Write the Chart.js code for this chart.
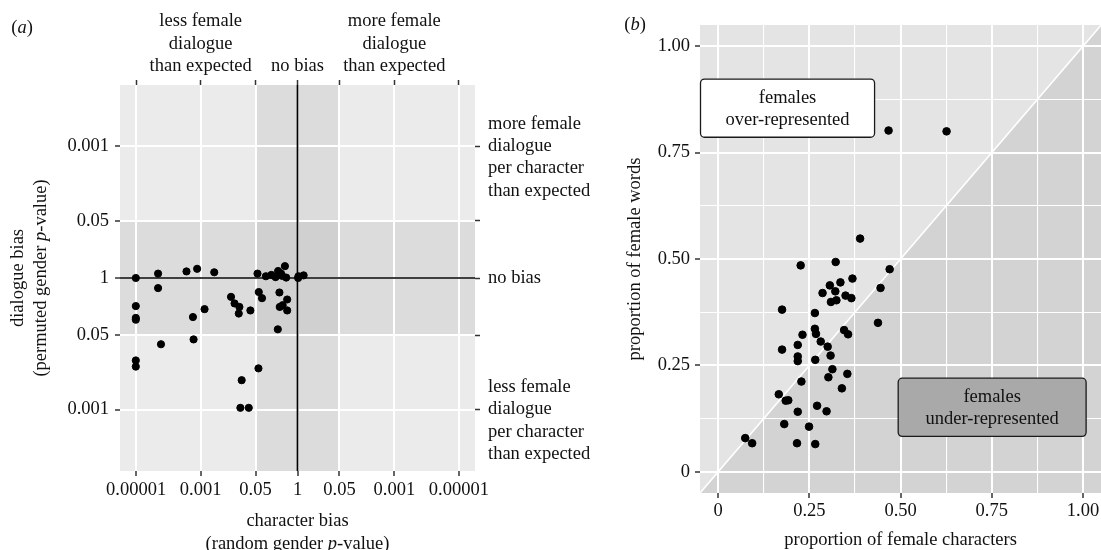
<!DOCTYPE html>
<html lang="en">
<head>
  <meta charset="UTF-8" />
  <title>Dialogue bias and female representation</title>
  <script src="https://cdn.jsdelivr.net/npm/chart.js"></script>
  <style>
    body { margin: 0; background: #fff; overflow: hidden; }
    #wrap { position: relative; width: 1101px; height: 550px; overflow: hidden; }
    #chartA { position: absolute; left: 0; top: 0; }
    #chartB { position: absolute; left: 600px; top: 0; }
  </style>
</head>
<body>
  <div id="wrap">
    <canvas id="chartA" width="600" height="550"></canvas>
    <canvas id="chartB" width="506" height="550"></canvas>
  </div>

  <script>
    // ---- panel (a): signed -log10(p); negative = less female than expected
    const charBias = [-5.01, -4.32, -4.32, -3.44, -3.11, -2.58, -1.24, -0.98, -0.81, -0.68, -0.60,
      -0.51, -0.39, -0.35, -0.48, 0.03, 0.19, 0.02, -5.01, -5.01, -5.01, -3.24, -2.88, -2.06, -1.95,
      -1.80, -1.82, -1.46, -1.20, -1.10, -0.56, -0.55, -0.32, -0.32, -0.46, -0.61, -4.23, -3.22,
      -5.01, -5.01, -1.21, -1.73, -1.77, -1.51];
    const dialogueBias = [0, 0.10, -0.23, 0.15, 0.21, 0.13, 0.10, 0.04, 0.07, 0.02, 0.16,
      0.10, 0.27, 0.01, 0.05, 0.04, 0.06, 0, -0.64, -0.91, -0.95, -0.89, -0.71, -0.43, -0.58,
      -0.66, -0.81, -0.74, -0.32, -0.46, -0.33, -0.66, -0.49, -0.74, -0.62, -1.17, -1.51, -1.40,
      -1.88, -2.02, -2.06, -2.33, -2.96, -2.96];

    const xTickValues = [-5, -3, -1.301, 0, 1.301, 3, 5];
    const xTickLabels = ['0.00001', '0.001', '0.05', '1', '0.05', '0.001', '0.00001'];
    const topTickLabels = ['', ['less female', 'dialogue', 'than expected'], '', 'no bias', '',
      ['more female', 'dialogue', 'than expected'], ''];
    const yTickValues = [-3, -1.301, 0, 1.301, 3];
    const yTickLabels = ['0.001', '0.05', '1', '0.05', '0.001'];
    const rightTickLabels = [['less female', 'dialogue', 'per character', 'than expected'], '', 'no bias', '',
      ['more female', 'dialogue', 'per character', 'than expected']];
    const sigLevel = 1.301; // p = 0.05

    // ---- panel (b): proportions
    const femaleCharacters = [0.467, 0.626, 0.389, 0.226, 0.322, 0.470, 0.368, 0.335, 0.306, 0.445,
      0.286, 0.321, 0.349, 0.365, 0.309, 0.324, 0.175, 0.265, 0.438, 0.265, 0.345, 0.356, 0.231,
      0.268, 0.281, 0.300, 0.218, 0.175, 0.308, 0.218, 0.218, 0.266, 0.313, 0.302, 0.354, 0.228,
      0.339, 0.166, 0.185, 0.192, 0.271, 0.218, 0.297, 0.181, 0.249, 0.074, 0.093, 0.216, 0.266];
    const femaleWords = [0.802, 0.800, 0.548, 0.485, 0.493, 0.476, 0.454, 0.445, 0.438, 0.432,
      0.420, 0.424, 0.414, 0.408, 0.399, 0.403, 0.381, 0.373, 0.350, 0.336, 0.333, 0.323, 0.322,
      0.324, 0.306, 0.294, 0.298, 0.287, 0.273, 0.271, 0.260, 0.263, 0.241, 0.222, 0.230, 0.212,
      0.196, 0.182, 0.167, 0.168, 0.155, 0.141, 0.142, 0.112, 0.106, 0.079, 0.067, 0.067, 0.065];
    const propTickValues = [0, 0.125, 0.25, 0.375, 0.5, 0.625, 0.75, 0.875, 1];
    const propTickLabels = ['0', '', '0.25', '', '0.50', '', '0.75', '', '1.00'];
    const diagonal = [-0.05, 1.05];

    const serif = '"Liberation Serif", "DejaVu Serif", serif';
    const FS = 18.5;
    const textColor = '#111';
    Chart.defaults.font.family = serif;
    Chart.defaults.font.size = FS;
    Chart.defaults.color = textColor;
    Chart.defaults.animation = false;
    Chart.defaults.plugins.legend.display = false;
    Chart.defaults.plugins.tooltip.enabled = false;

    const fixSize = size => scale => {
      if (scale.isHorizontal()) scale.height = size; else scale.width = size;
    };
    const setTicks = values => scale => { scale.ticks = values.map(v => ({ value: v })); };

    // text with italic pieces, centred on (x, y)
    function drawRich(ctx, parts, x, y, angle) {
      ctx.save();
      ctx.translate(x, y);
      ctx.rotate(angle || 0);
      ctx.textBaseline = 'middle';
      ctx.textAlign = 'left';
      ctx.fillStyle = textColor;
      const fonts = parts.map(p => (p[1] ? 'italic ' : '') + FS + 'px ' + serif);
      const widths = parts.map((p, i) => { ctx.font = fonts[i]; return ctx.measureText(p[0]).width; });
      let cx = -widths.reduce((a, b) => a + b, 0) / 2;
      parts.forEach((p, i) => { ctx.font = fonts[i]; ctx.fillText(p[0], cx, 0); cx += widths[i]; });
      ctx.restore();
    }

    const axisTick = { tickColor: '#333', tickWidth: 1.5, tickLength: 5 };

    const panelA = {
      id: 'panelA',
      beforeDraw(chart) {
        const { ctx, chartArea: a, scales: { x, y } } = chart;
        const l = x.getPixelForValue(-sigLevel), r = x.getPixelForValue(sigLevel);
        const t = y.getPixelForValue(sigLevel), b = y.getPixelForValue(-sigLevel);
        ctx.save();
        ctx.fillStyle = '#ebebeb';
        ctx.fillRect(a.left, a.top, a.width, a.height);
        ctx.fillStyle = '#dcdcdc';
        ctx.fillRect(l, a.top, r - l, a.height);
        ctx.fillRect(a.left, t, a.width, b - t);
        ctx.fillStyle = '#d0d0d0';
        ctx.fillRect(l, t, r - l, b - t);
        ctx.restore();
      },
      beforeDatasetsDraw(chart) {
        const { ctx, chartArea: a, scales: { x, y } } = chart;
        const x0 = x.getPixelForValue(0), y0 = y.getPixelForValue(0);
        ctx.save();
        ctx.strokeStyle = '#000';
        ctx.lineWidth = 1.7;
        ctx.beginPath();
        ctx.moveTo(x0, a.top); ctx.lineTo(x0, a.bottom);
        ctx.moveTo(a.left, y0); ctx.lineTo(a.right, y0);
        ctx.stroke();
        ctx.restore();
      },
      afterDraw(chart) {
        const { ctx, chartArea: a } = chart;
        const cx = (a.left + a.right) / 2, cy = (a.top + a.bottom) / 2;
        drawRich(ctx, [['character bias']], cx, a.bottom + 50);
        drawRich(ctx, [['(random gender '], ['p', true], ['-value)']], cx, a.bottom + 73);
        drawRich(ctx, [['dialogue bias']], 18, cy, -Math.PI / 2);
        drawRich(ctx, [['(permuted gender '], ['p', true], ['-value)']], 41, cy, -Math.PI / 2);
        drawRich(ctx, [['('], ['a', true], [')']], 22, 28);
      }
    };

    new Chart(document.getElementById('chartA'), {
      type: 'scatter',
      data: {
        datasets: [{
          data: charBias.map((v, i) => ({ x: v, y: dialogueBias[i] })),
          backgroundColor: '#000',
          borderColor: '#000',
          pointRadius: 3.6,
          pointHoverRadius: 3.6
        }]
      },
      options: {
        responsive: false,
        layout: { padding: 0 },
        scales: {
          x: {
            type: 'linear', position: 'bottom', min: -5.5, max: 5.5,
            afterBuildTicks: setTicks(xTickValues), afterFit: fixSize(79),
            ticks: { callback: (v, i) => xTickLabels[i], autoSkip: false, maxRotation: 0, minRotation: 0, padding: 3 },
            grid: { color: '#fff', lineWidth: 2, ...axisTick },
            border: { display: false }
          },
          xTop: {
            type: 'linear', position: 'top', min: -5.5, max: 5.5,
            afterBuildTicks: setTicks(xTickValues), afterFit: fixSize(85),
            ticks: { callback: (v, i) => topTickLabels[i], autoSkip: false, maxRotation: 0, minRotation: 0, padding: 3 },
            grid: { drawOnChartArea: false, ...axisTick },
            border: { display: false }
          },
          y: {
            type: 'linear', position: 'left', min: -4.4, max: 4.4,
            afterBuildTicks: setTicks(yTickValues), afterFit: fixSize(120),
            ticks: { callback: (v, i) => yTickLabels[i], autoSkip: false, padding: 6 },
            grid: { color: '#fff', lineWidth: 2, ...axisTick },
            border: { display: false }
          },
          yRight: {
            type: 'linear', position: 'right', min: -4.4, max: 4.4,
            afterBuildTicks: setTicks(yTickValues), afterFit: fixSize(125),
            ticks: {
              callback: (v, i) => {
                const l = rightTickLabels[i];
                return Array.isArray(l) ? [''].concat(l) : l;
              },
              autoSkip: false, padding: 8
            },
            grid: { drawOnChartArea: false, ...axisTick },
            border: { display: false }
          }
        }
      },
      plugins: [panelA]
    });

    const panelB = {
      id: 'panelB',
      beforeDraw(chart) {
        const { ctx, chartArea: a, scales: { x, y } } = chart;
        ctx.save();
        ctx.fillStyle = '#e4e4e4';
        ctx.fillRect(a.left, a.top, a.width, a.height);
        ctx.fillStyle = '#d3d3d3';
        ctx.beginPath();
        ctx.moveTo(x.getPixelForValue(diagonal[0]), y.getPixelForValue(diagonal[0]));
        ctx.lineTo(x.getPixelForValue(diagonal[1]), y.getPixelForValue(diagonal[1]));
        ctx.lineTo(x.getPixelForValue(diagonal[1]), y.getPixelForValue(diagonal[0]));
        ctx.closePath();
        ctx.fill();
        ctx.restore();
      },
      afterDatasetsDraw(chart) {
        const { ctx, scales: { x, y } } = chart;
        const boxes = [
          { x0: -0.05, x1: 0.43, y0: 0.785, y1: 0.924, fill: '#fff', lines: ['females', 'over-represented'] },
          { x0: 0.492, x1: 1.01, y0: 0.082, y1: 0.221, fill: '#a9a9a9', lines: ['females', 'under-represented'] }
        ];
        boxes.forEach(bx => {
          const l = x.getPixelForValue(bx.x0), r = x.getPixelForValue(bx.x1);
          const t = y.getPixelForValue(bx.y1), b = y.getPixelForValue(bx.y0);
          ctx.save();
          ctx.beginPath();
          ctx.roundRect(l + 0.5, t + 0.5, r - l - 1, b - t - 1, 4);
          ctx.fillStyle = bx.fill;
          ctx.fill();
          ctx.strokeStyle = '#1a1a1a';
          ctx.lineWidth = 1.3;
          ctx.stroke();
          ctx.restore();
          const mid = (t + b) / 2;
          drawRich(ctx, [[bx.lines[0]]], (l + r) / 2, mid - 10.5);
          drawRich(ctx, [[bx.lines[1]]], (l + r) / 2, mid + 11.5);
        });
      },
      afterDraw(chart) {
        const { ctx, chartArea: a } = chart;
        drawRich(ctx, [['proportion of female characters']], x0Center(chart), 540);
        drawRich(ctx, [['proportion of female words']], 35, (a.top + a.bottom) / 2, -Math.PI / 2);
        drawRich(ctx, [['('], ['b', true], [')']], 35, 25);
      }
    };
    // title sits under the middle of the visible panel
    const x0Center = chart => chart.scales.x.getPixelForValue(0.5);

    const propGrid = {
      color: '#fff',
      lineWidth: c => (propTickLabels[c.index] === '' ? 1.1 : 2),
      tickColor: c => (propTickLabels[c.index] === '' ? 'rgba(0,0,0,0)' : '#333'),
      tickWidth: 1.5,
      tickLength: 5
    };

    new Chart(document.getElementById('chartB'), {
      type: 'scatter',
      data: {
        datasets: [{
          data: femaleCharacters.map((v, i) => ({ x: v, y: femaleWords[i] })),
          backgroundColor: '#000',
          borderColor: '#000',
          pointRadius: 3.8,
          pointHoverRadius: 3.8,
          order: 1
        }, {
          type: 'line',
          data: diagonal.map(v => ({ x: v, y: v })),
          borderColor: '#fff',
          borderWidth: 1.6,
          pointRadius: 0,
          order: 2
        }]
      },
      options: {
        responsive: false,
        layout: { padding: { top: 25, right: 0, left: 0, bottom: 0 } },
        scales: {
          x: {
            type: 'linear', min: -0.05, max: 1.05,
            afterBuildTicks: setTicks(propTickValues), afterFit: fixSize(57),
            ticks: { callback: (v, i) => propTickLabels[i], autoSkip: false, maxRotation: 0, minRotation: 0, padding: 2 },
            grid: propGrid,
            border: { display: false }
          },
          y: {
            type: 'linear', min: -0.05, max: 1.05,
            afterBuildTicks: setTicks(propTickValues), afterFit: fixSize(100),
            ticks: { callback: (v, i) => propTickLabels[i], autoSkip: false, padding: 5 },
            grid: propGrid,
            border: { display: false }
          }
        }
      },
      plugins: [panelB]
    });
  </script>
</body>
</html>
